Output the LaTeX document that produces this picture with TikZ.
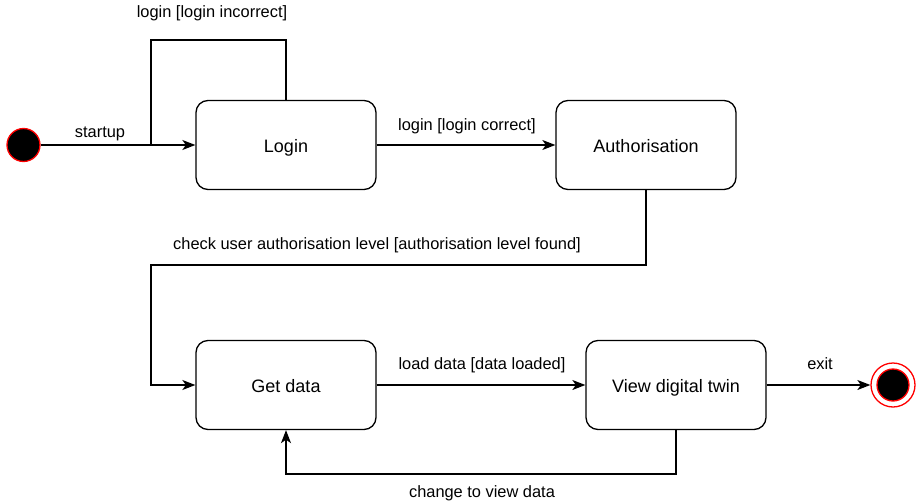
\documentclass[tikz,border=0pt]{standalone}
\usepackage{fontspec}
\setmainfont{Liberation Sans}
\usetikzlibrary{arrows.meta}
\begin{document}
\begin{tikzpicture}[x=1pt,y=-1pt,
  statebox/.style={draw,line width=1.3pt,rounded corners=12pt,minimum width=180pt,minimum height=89pt,inner sep=0pt,text height=15.5pt,text depth=0.5pt,font=\fontsize{18}{21}\selectfont},
  lbl/.style={font=\fontsize{16.4}{19}\selectfont,inner sep=0pt},
  conn/.style={line width=1.3pt},
  arr/.style={conn,-{Stealth[length=13pt,width=10pt,inset=3.5pt]}}]
\fill[white] (0,0) rectangle (917,500);
\useasboundingbox (0,0) rectangle (917,500);
\node[statebox] (login) at (286,145) {Login};
\node[statebox] (auth) at (646,145) {Authorisation};
\node[statebox] (get) at (286,385) {Get data};
\node[statebox] (view) at (676,385) {View digital twin};
\node[circle,draw=red,fill=black,line width=1.3pt,minimum size=33pt,inner sep=0pt] (start) at (23.5,145) {};
\node[circle,draw=red,fill=white,line width=1.3pt,minimum size=44pt,inner sep=0pt] (stop) at (893,385) {};
\node[circle,draw=red,fill=black,line width=1.3pt,minimum size=32pt,inner sep=0pt] (stopin) at (893,385) {};
\coordinate (lA) at (286,40);
\coordinate (lB) at (151,40);
\coordinate (lC) at (151,145);
\coordinate (cA) at (646,265);
\coordinate (cB) at (151,265);
\coordinate (cC) at (151,385);
\coordinate (vA) at (676,474);
\coordinate (vB) at (286,474);
\draw[arr] (start) -- (login.west |- start);
\draw[conn] (login.north) -- (lA) -- (lB) -- (lC);
\draw[arr] (auth.south) -- (cA) -- (cB) -- (cC) -- (get.west |- cC);
\draw[arr] (login.east) -- (auth.west);
\draw[arr] (get.east) -- (view.west);
\draw[arr] (view.south) -- (vA) -- (vB) -- (get.south);
\draw[arr] (view.east) -- (stop.west);
\node[lbl] (t1) at (100,134) {startup};
\node[lbl] (t2) at (212,13) {login [login incorrect]};
\node[lbl] (t3) at (467,126) {login [login correct]};
\node[lbl] (t4) at (377,245) {check user authorisation level [authorisation level found]};
\node[lbl] (t5) at (482,365) {load data [data loaded]};
\node[lbl] (t6) at (820,364) {exit};
\node[lbl] (t7) at (482,493) {change to view data};
\end{tikzpicture}
\end{document}
